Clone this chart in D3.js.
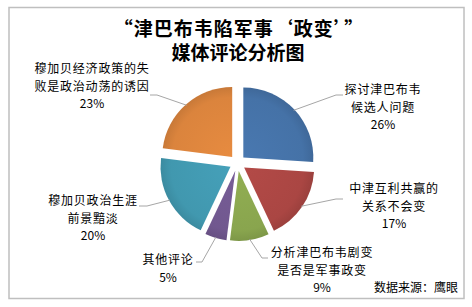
<!DOCTYPE html>
<html>
<head>
<meta charset="utf-8">
<script src="https://cdn.jsdelivr.net/npm/d3@7"></script>
<style>
  body { margin: 0; background: #fff; }
  text { font-family: "Noto Sans CJK SC", "Noto Sans", sans-serif; fill: #000; }
</style>
</head>
<body>
<div id="chart"></div>
<script>
// données
const titleLines = ["“津巴布韦陷军事‘政变’”", "媒体评论分析图"];
const categories = [
  ["探讨津巴布韦", "候选人问题"],
  ["中津互利共赢的", "关系不会变"],
  ["分析津巴布韦剧变", "是否是军事政变"],
  ["其他评论"],
  ["穆加贝政治生涯", "前景黯淡"],
  ["穆加贝经济政策的失", "败是政治动荡的诱因"]
];
const values = [26, 17, 9, 5, 20, 23];
const colors = ["#4572A7", "#AA4643", "#89A54E", "#71588F", "#4198AF", "#DB843D"];
const sourceText = "数据来源：鹰眼";

// placement des étiquettes (x centre, y 1re ligne, coude, fin de ligne de rappel)
const labelLayout = [
  { x: 383, y: 90,  elbow: [336, 95],  end: [343, 95] },
  { x: 394, y: 189, elbow: [336, 199], end: [343, 199] },
  { x: 322, y: 253, elbow: [262, 258], end: [268, 258] },
  { x: 168, y: 260, elbow: [202, 262], end: [196, 262] },
  { x: 93,  y: 201, elbow: [147, 206], end: [139, 206] },
  { x: 92,  y: 69,  elbow: [157, 95],  end: [150, 95] }
];

const width = 472, height = 307;
const cx = 237.5, cy = 163, radius = 70, explode = 8;
const lineH = 17.5;

const svg = d3.select("#chart").append("svg")
  .attr("width", width)
  .attr("height", height);

// cadre
svg.append("rect")
  .attr("x", 9).attr("y", 7.5)
  .attr("width", 455).attr("height", 291)
  .attr("fill", "#fff")
  .attr("stroke", "#bfbfbf")
  .attr("stroke-width", 1.5);

// titre
svg.selectAll(".title")
  .data(titleLines)
  .enter().append("text")
  .attr("class", "title")
  .attr("x", (d, i) => i === 0 ? 239 : 238)
  .attr("y", (d, i) => 29 + i * 24.5)
  .attr("dy", "0.35em")
  .attr("text-anchor", "middle")
  .style("font-size", "19px")
  .style("font-weight", "bold")
  .style("letter-spacing", (d, i) => i === 0 ? "1px" : "0px")
  .text(d => d);

const pie = d3.pie().sort(null).value(d => d);
const arcs = pie(values);
const arc = d3.arc().innerRadius(0).outerRadius(radius);

const mid = d => (d.startAngle + d.endAngle) / 2;
const dir = d => [Math.sin(mid(d)), -Math.cos(mid(d))];

// dégradés
const defs = svg.append("defs");
colors.forEach((c, i) => {
  const gr = defs.append("radialGradient")
    .attr("id", "grad" + i)
    .attr("gradientUnits", "userSpaceOnUse")
    .attr("cx", 0).attr("cy", 0).attr("r", radius);
  gr.append("stop").attr("offset", "0%").attr("stop-color", d3.color(c).brighter(0.15));
  gr.append("stop").attr("offset", "85%").attr("stop-color", c);
  gr.append("stop").attr("offset", "100%").attr("stop-color", d3.color(c).darker(0.25));
});

const g = svg.append("g").attr("transform", `translate(${cx},${cy})`);

g.selectAll("path.slice")
  .data(arcs)
  .enter().append("path")
  .attr("class", "slice")
  .attr("transform", d => {
    const [dx, dy] = dir(d);
    return `translate(${dx * explode},${dy * explode})`;
  })
  .attr("d", arc)
  .attr("fill", (d, i) => `url(#grad${i})`);

// lignes de rappel
svg.selectAll("polyline.leader")
  .data(arcs)
  .enter().append("polyline")
  .attr("class", "leader")
  .attr("points", (d, i) => {
    const [dx, dy] = dir(d);
    const r = radius + explode - 1;
    const s = [cx + dx * r, cy + dy * r];
    const L = labelLayout[i];
    return [s, L.elbow, L.end].map(p => p.join(",")).join(" ");
  })
  .attr("fill", "none")
  .attr("stroke", "#a6a6a6")
  .attr("stroke-width", 1);

// étiquettes
const labels = svg.selectAll("g.label")
  .data(arcs)
  .enter().append("g")
  .attr("class", "label");

labels.each(function (d, i) {
  const L = labelLayout[i];
  const lines = categories[i].concat([values[i] + "%"]);
  d3.select(this).selectAll("text")
    .data(lines)
    .enter().append("text")
    .attr("x", L.x)
    .attr("y", (t, j) => L.y + j * lineH)
    .attr("dy", "0.35em")
    .attr("text-anchor", "middle")
    .style("font-size", "12px")
    .style("letter-spacing", (t, j) => j === lines.length - 1 ? "0px" : "0.8px")
    .text(t => t);
});

// source
svg.append("text")
  .attr("x", 458)
  .attr("y", 288)
  .attr("dy", "0.35em")
  .attr("text-anchor", "end")
  .style("font-size", "12px")
  .text(sourceText);
</script>
</body>
</html>
